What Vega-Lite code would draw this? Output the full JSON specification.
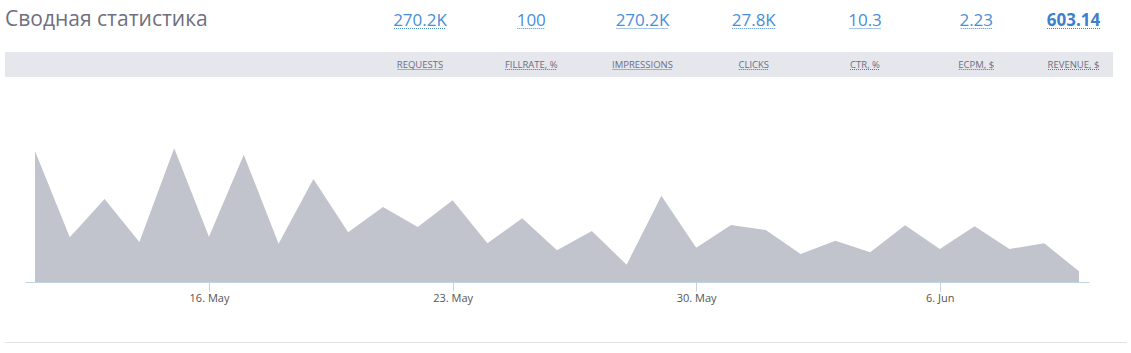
{
  "$schema": "https://vega.github.io/schema/vega-lite/v6.json",
  "padding": {"left": 5, "top": 0, "right": 0, "bottom": 0},
  "title": {"text": "Сводная статистика", "anchor": "start", "frame": "group", "offset": -30, "baseline": "top", "font": "Open Sans", "fontSize": 21, "fontWeight": "normal", "color": "#6f6f80"},
  "config": {"view": {"stroke": null}},
  "spacing": 33,
  "vconcat": [
    {
      "spacing": 14,
      "vconcat": [
        {
          "width": 1108,
          "height": 38,
          "data": {"values": [
            {"metric": "REQUESTS", "value": "270.2K"},
            {"metric": "FILLRATE, %", "value": "100"},
            {"metric": "IMPRESSIONS", "value": "270.2K"},
            {"metric": "CLICKS", "value": "27.8K"},
            {"metric": "CTR, %", "value": "10.3"},
            {"metric": "ECPM, $", "value": "2.23"},
            {"metric": "REVENUE, $", "value": "603.14"}
          ]},
          "encoding": {
            "x": {"field": "metric", "type": "nominal", "axis": null,
              "scale": {"type": "point", "padding": 0, "domain": ["REQUESTS", "FILLRATE, %", "IMPRESSIONS", "CLICKS", "CTR, %", "ECPM, $", "REVENUE, $"], "range": [415, 1082.5]}}
          },
          "layer": [
            {"transform": [{"filter": "datum.metric !== 'REVENUE, $'"}],
             "mark": {"type": "text", "font": "Open Sans", "fontSize": 17, "color": "#4a8ed6", "baseline": "middle", "dy": 2},
             "encoding": {"text": {"field": "value"}}},
            {"transform": [{"filter": "datum.metric === 'REVENUE, $'"}],
             "mark": {"type": "text", "font": "Open Sans", "fontSize": 17, "fontWeight": "bold", "color": "#3f80cc", "baseline": "middle", "dy": 2, "dx": -14},
             "encoding": {"text": {"field": "value"}}},
            {"transform": [{"filter": "datum.metric === 'REQUESTS' || datum.metric === 'IMPRESSIONS'"}],
             "mark": {"type": "rule", "color": "#4a8ed6", "strokeDash": [1, 1], "strokeWidth": 1, "xOffset": -26, "x2Offset": 26, "yOffset": 9.5},
             "encoding": {"x2": {"field": "metric"}}},
            {"transform": [{"filter": "datum.metric === 'FILLRATE, %'"}],
             "mark": {"type": "rule", "color": "#4a8ed6", "strokeDash": [1, 1], "strokeWidth": 1, "xOffset": -14, "x2Offset": 14, "yOffset": 9.5},
             "encoding": {"x2": {"field": "metric"}}},
            {"transform": [{"filter": "datum.metric === 'CLICKS'"}],
             "mark": {"type": "rule", "color": "#4a8ed6", "strokeDash": [1, 1], "strokeWidth": 1, "xOffset": -21.5, "x2Offset": 21.5, "yOffset": 9.5},
             "encoding": {"x2": {"field": "metric"}}},
            {"transform": [{"filter": "datum.metric === 'CTR, %' || datum.metric === 'ECPM, $'"}],
             "mark": {"type": "rule", "color": "#4a8ed6", "strokeDash": [1, 1], "strokeWidth": 1, "xOffset": -15.5, "x2Offset": 15.5, "yOffset": 9.5},
             "encoding": {"x2": {"field": "metric"}}},
            {"transform": [{"filter": "datum.metric === 'REVENUE, $'"}],
             "mark": {"type": "rule", "color": "#3f80cc", "strokeDash": [1, 1], "strokeWidth": 1, "xOffset": -40.5, "x2Offset": 12.5, "yOffset": 9.5},
             "encoding": {"x2": {"field": "metric"}}}
          ]
        },
        {
          "width": 1108,
          "height": 25,
          "view": {"fill": "#e6e7ec", "stroke": null},
          "data": {"values": [
            {"metric": "REQUESTS"},
            {"metric": "FILLRATE, %"},
            {"metric": "IMPRESSIONS"},
            {"metric": "CLICKS"},
            {"metric": "CTR, %"},
            {"metric": "ECPM, $"},
            {"metric": "REVENUE, $"}
          ]},
          "encoding": {
            "x": {"field": "metric", "type": "nominal", "axis": null,
              "scale": {"type": "point", "padding": 0, "domain": ["REQUESTS", "FILLRATE, %", "IMPRESSIONS", "CLICKS", "CTR, %", "ECPM, $", "REVENUE, $"], "range": [415, 1082.5]}}
          },
          "layer": [
            {"transform": [{"filter": "datum.metric !== 'REVENUE, $'"}],
             "mark": {"type": "text", "font": "Open Sans", "fontSize": 9.5, "color": "#6b6e85", "baseline": "middle"},
             "encoding": {"text": {"field": "metric"}}},
            {"transform": [{"filter": "datum.metric === 'REVENUE, $'"}],
             "mark": {"type": "text", "font": "Open Sans", "fontSize": 9.5, "color": "#6b6e85", "baseline": "middle", "dx": -14},
             "encoding": {"text": {"field": "metric"}}},
            {"transform": [{"filter": "datum.metric === 'REQUESTS'"}],
             "mark": {"type": "rule", "color": "#6b6e85", "strokeDash": [1, 1], "strokeWidth": 1, "xOffset": -22.5, "x2Offset": 22.5, "yOffset": 5},
             "encoding": {"x2": {"field": "metric"}}},
            {"transform": [{"filter": "datum.metric === 'FILLRATE, %'"}],
             "mark": {"type": "rule", "color": "#6b6e85", "strokeDash": [1, 1], "strokeWidth": 1, "xOffset": -26, "x2Offset": 26, "yOffset": 5},
             "encoding": {"x2": {"field": "metric"}}},
            {"transform": [{"filter": "datum.metric === 'IMPRESSIONS'"}],
             "mark": {"type": "rule", "color": "#6b6e85", "strokeDash": [1, 1], "strokeWidth": 1, "xOffset": -30, "x2Offset": 30, "yOffset": 5},
             "encoding": {"x2": {"field": "metric"}}},
            {"transform": [{"filter": "datum.metric === 'CLICKS' || datum.metric === 'CTR, %'"}],
             "mark": {"type": "rule", "color": "#6b6e85", "strokeDash": [1, 1], "strokeWidth": 1, "xOffset": -15, "x2Offset": 15, "yOffset": 5},
             "encoding": {"x2": {"field": "metric"}}},
            {"transform": [{"filter": "datum.metric === 'ECPM, $'"}],
             "mark": {"type": "rule", "color": "#6b6e85", "strokeDash": [1, 1], "strokeWidth": 1, "xOffset": -17.5, "x2Offset": 17.5, "yOffset": 5},
             "encoding": {"x2": {"field": "metric"}}},
            {"transform": [{"filter": "datum.metric === 'REVENUE, $'"}],
             "mark": {"type": "rule", "color": "#6b6e85", "strokeDash": [1, 1], "strokeWidth": 1, "xOffset": -39.5, "x2Offset": 11.5, "yOffset": 5},
             "encoding": {"x2": {"field": "metric"}}}
          ]
        },
        {
          "width": 1108,
          "height": 191,
          "data": {"values": [
            {"date": "2021-05-11", "revenue": 44.58},
            {"date": "2021-05-12", "revenue": 15.21},
            {"date": "2021-05-13", "revenue": 28.25},
            {"date": "2021-05-14", "revenue": 13.61},
            {"date": "2021-05-15", "revenue": 45.50},
            {"date": "2021-05-16", "revenue": 15.42},
            {"date": "2021-05-17", "revenue": 43.32},
            {"date": "2021-05-18", "revenue": 13.03},
            {"date": "2021-05-19", "revenue": 35.05},
            {"date": "2021-05-20", "revenue": 16.91},
            {"date": "2021-05-21", "revenue": 25.52},
            {"date": "2021-05-22", "revenue": 18.72},
            {"date": "2021-05-23", "revenue": 27.80},
            {"date": "2021-05-24", "revenue": 13.17},
            {"date": "2021-05-25", "revenue": 21.68},
            {"date": "2021-05-26", "revenue": 10.79},
            {"date": "2021-05-27", "revenue": 17.36},
            {"date": "2021-05-28", "revenue": 5.89},
            {"date": "2021-05-29", "revenue": 29.37},
            {"date": "2021-05-30", "revenue": 11.67},
            {"date": "2021-05-31", "revenue": 19.40},
            {"date": "2021-06-01", "revenue": 17.70},
            {"date": "2021-06-02", "revenue": 9.53},
            {"date": "2021-06-03", "revenue": 14.05},
            {"date": "2021-06-04", "revenue": 10.11},
            {"date": "2021-06-05", "revenue": 19.30},
            {"date": "2021-06-06", "revenue": 11.23},
            {"date": "2021-06-07", "revenue": 18.96},
            {"date": "2021-06-08", "revenue": 11.23},
            {"date": "2021-06-09", "revenue": 13.17},
            {"date": "2021-06-10", "revenue": 3.64}
          ]},
          "mark": {"type": "area", "color": "#c2c4cd", "opacity": 1},
          "encoding": {
            "x": {"field": "date", "type": "temporal",
              "scale": {"type": "utc",
                "domain": [{"year": 2021, "month": 5, "date": 10, "hours": 17, "minutes": 7, "utc": true},
                           {"year": 2021, "month": 6, "date": 10, "hours": 6, "minutes": 53, "utc": true}],
                "range": [20, 1084]},
              "axis": {"title": null, "grid": false, "format": "%-d. %b",
                "values": [{"year": 2021, "month": 5, "date": 16, "utc": true},
                           {"year": 2021, "month": 5, "date": 23, "utc": true},
                           {"year": 2021, "month": 5, "date": 30, "utc": true},
                           {"year": 2021, "month": 6, "date": 6, "utc": true}],
                "domainColor": "#c3d3e3", "tickColor": "#c3d3e3", "tickSize": 9,
                "labelFont": "Open Sans", "labelFontSize": 11, "labelColor": "#555555", "labelPadding": 1}},
            "y": {"field": "revenue", "type": "quantitative", "axis": null, "scale": {"domain": [0, 65]}}
          }
        }
      ]
    },
    {
      "width": 1122,
      "height": 1,
      "view": {"fill": "#e3e3e3", "stroke": null},
      "data": {"values": [{"t": ""}]},
      "mark": {"type": "text"},
      "encoding": {"text": {"field": "t"}}
    }
  ]
}
